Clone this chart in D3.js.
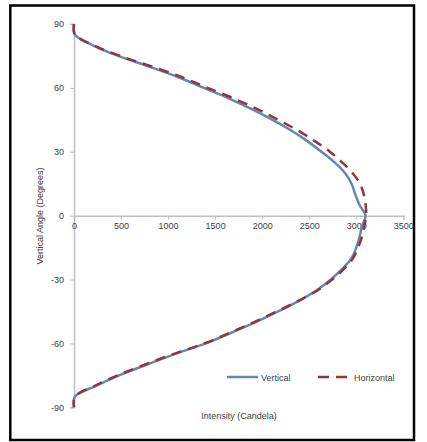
<!DOCTYPE html>
<html lang="en">
<head>
<meta charset="UTF-8">
<title>Intensity chart</title>
<script src="https://d3js.org/d3.v7.min.js"></script>
<style>
  body { margin: 0; background: #fff; }
  text { font-family: "Liberation Sans", Arial, sans-serif; fill: #404040; }
</style>
</head>
<body>
<svg width="427" height="442"></svg>
<script>
// angle in degrees, intensity in candela
var angles = [90, 85, 80, 75, 70, 65, 60, 55, 50, 45, 40, 35, 30, 25, 20, 15, 10, 5, 0,
              -5, -10, -15, -20, -25, -30, -35, -40, -45, -50, -55, -60, -65, -70, -75, -80, -85, -90];
var vertical = [0, 10, 200, 470, 800, 1110, 1380, 1650, 1890, 2110, 2310, 2480, 2630, 2770, 2880, 2950, 2990, 3035, 3100,
                3060, 3035, 3000, 2950, 2850, 2730, 2580, 2390, 2170, 1930, 1670, 1400, 1070, 770, 480, 230, 10, 0];
var horizontal = [0, 10, 210, 490, 830, 1150, 1420, 1700, 1950, 2170, 2380, 2560, 2720, 2850, 2960, 3040, 3080, 3100, 3105,
                  3085, 3060, 3020, 2965, 2870, 2745, 2590, 2385, 2155, 1915, 1655, 1385, 1055, 750, 465, 215, 10, 0];
var xTicks = [0, 500, 1000, 1500, 2000, 2500, 3000, 3500];
var yTicks = [90, 60, 30, 0, -30, -60, -90];

var svg = d3.select("svg");
var x = d3.scaleLinear([0, 3500], [74, 403.3]);
var y = d3.scaleLinear([-90, 90], [407.3, 24]);

// frame
svg.append("rect").attr("x", 10.3).attr("y", 5.5).attr("width", 403.7).attr("height", 434.5)
  .attr("fill", "none").attr("stroke", "#000").attr("stroke-width", 2.5);

// y axis
var ya = svg.append("g").attr("transform", "translate(" + x(0) + ",0)")
  .call(d3.axisLeft(y).tickValues(yTicks).tickFormat(String).tickSize(4).tickPadding(6));
// x axis along angle 0
var xa = svg.append("g").attr("transform", "translate(0," + y(0) + ")")
  .call(d3.axisBottom(x).tickValues(xTicks).tickFormat(String).tickSize(4).tickPadding(3));
[ya, xa].forEach(function (g) {
  g.select(".domain").attr("stroke", "#bfbfbf").attr("stroke-width", 1.5);
  g.selectAll(".tick line").attr("stroke", "#bfbfbf").attr("stroke-width", 1);
  g.selectAll(".tick text").attr("font-size", 9).attr("fill", "#404040")
    .attr("font-family", "Liberation Sans, Arial, sans-serif");
});

var line = d3.line().curve(d3.curveCatmullRom.alpha(0.5))
  .x(function (d) { return x(d[1]); }).y(function (d) { return y(d[0]); });

svg.append("path").datum(d3.zip(angles, vertical)).attr("d", line)
  .attr("fill", "none").attr("stroke", "#6587b4").attr("stroke-width", 2.5);
svg.append("path").datum(d3.zip(angles, horizontal)).attr("d", line)
  .attr("fill", "none").attr("stroke", "#8b3a3a").attr("stroke-width", 2.5)
  .attr("stroke-dasharray", "10,7");

// axis titles
svg.append("text").attr("transform", "translate(43,216) rotate(-90)")
  .attr("text-anchor", "middle").attr("font-size", 9).text("Vertical Angle (Degrees)");
svg.append("text").attr("x", 239).attr("y", 419)
  .attr("text-anchor", "middle").attr("font-size", 9).text("Intensity (Candela)");

// legend
var lg = svg.append("g");
lg.append("line").attr("x1", 227).attr("x2", 258).attr("y1", 377).attr("y2", 377)
  .attr("stroke", "#6587b4").attr("stroke-width", 2.5);
lg.append("text").attr("x", 261).attr("y", 380.5).attr("font-size", 9).text("Vertical");
lg.append("line").attr("x1", 318).attr("x2", 347).attr("y1", 377).attr("y2", 377)
  .attr("stroke", "#8b3a3a").attr("stroke-width", 2.5).attr("stroke-dasharray", "11,7");
lg.append("text").attr("x", 354).attr("y", 380.5).attr("font-size", 9).text("Horizontal");
</script>
</body>
</html>
